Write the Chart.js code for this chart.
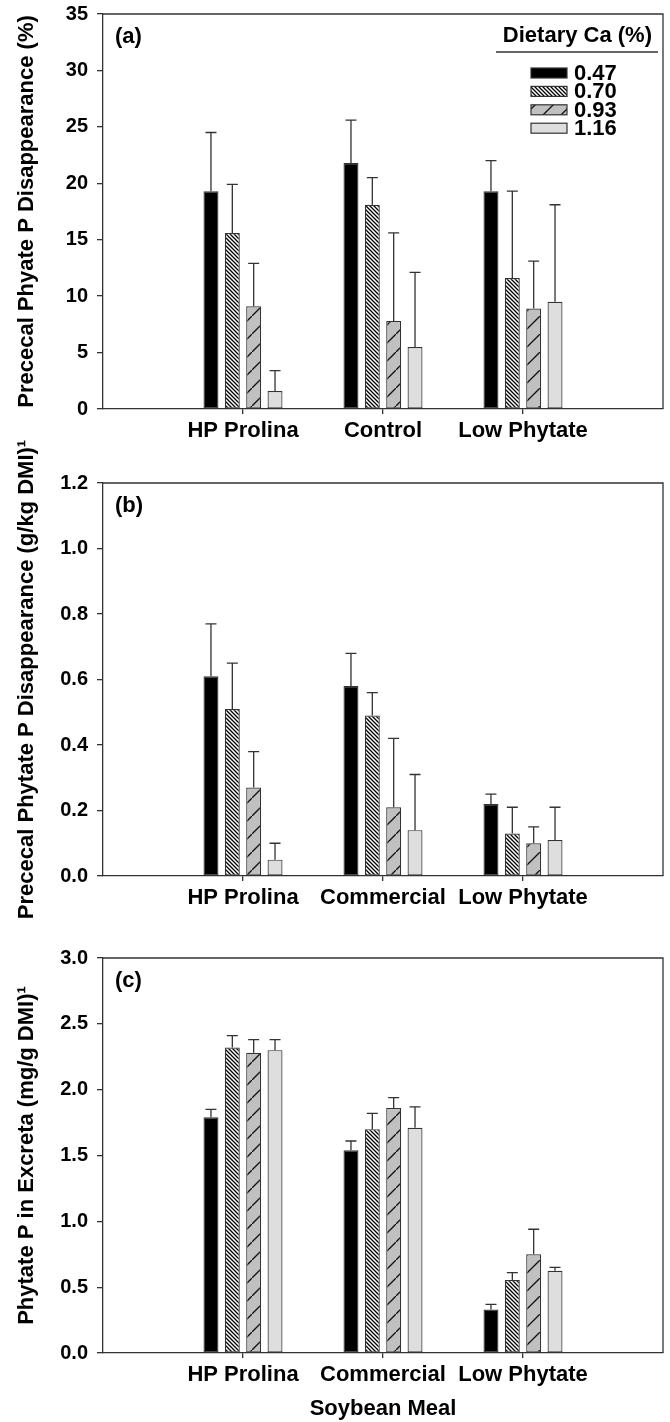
<!DOCTYPE html>
<html>
<head>
<meta charset="utf-8">
<script src="https://cdn.jsdelivr.net/npm/chart.js@4.4.1/dist/chart.umd.min.js"></script>
<style>
  body { margin: 0; background: #fff; }
  #wrap { position: relative; width: 670px; height: 1422px; overflow: hidden; }
  canvas { position: absolute; left: 0; }
</style>
</head>
<body>
<div id="wrap">
  <canvas id="chartA" width="670" height="458" style="top:-8px"></canvas>
  <canvas id="chartB" width="670" height="500" style="top:420px"></canvas>
  <canvas id="chartC" width="670" height="522" style="top:900px"></canvas>
</div>
<script>
// categories
const caLevels = ["0.47", "0.70", "0.93", "1.16"];
const mealsA = ["HP Prolina", "Control", "Low Phytate"];
const mealsBC = ["HP Prolina", "Commercial", "Low Phytate"];

// (a) prececal phytate P disappearance, %  (one row per Ca level, columns = meals)
const meanA = [[19.3, 21.8, 19.3], [15.6, 18.1, 11.6], [9.1, 7.8, 8.9], [1.6, 5.5, 9.5]];
const errA = [[5.2, 3.8, 2.7], [4.3, 2.4, 7.7], [3.8, 7.8, 4.2], [1.8, 6.6, 8.6]];
// (b) prececal phytate P disappearance, g/kg DMI
const meanB = [[0.61, 0.58, 0.22], [0.51, 0.49, 0.13], [0.27, 0.21, 0.10], [0.05, 0.14, 0.11]];
const errB = [[0.16, 0.10, 0.03], [0.14, 0.07, 0.08], [0.11, 0.21, 0.05], [0.05, 0.17, 0.10]];
// (c) phytate P in excreta, mg/g DMI
const meanC = [[1.79, 1.54, 0.33], [2.32, 1.70, 0.555], [2.28, 1.86, 0.75], [2.30, 1.71, 0.625]];
const errC = [[0.06, 0.07, 0.04], [0.09, 0.12, 0.055], [0.10, 0.08, 0.19], [0.08, 0.16, 0.025]];

// tick labels
const ticksA = [0, 5, 10, 15, 20, 25, 30, 35];
const ticksB = [0, 0.2, 0.4, 0.6, 0.8, 1.0, 1.2];
const ticksC = [0, 0.5, 1.0, 1.5, 2.0, 2.5, 3.0];

const FONT = "'Liberation Sans', Arial, Helvetica, sans-serif";
const EDGE = "#333";

// fill patterns for the four Ca levels
function tile(size, bg, draw) {
  const c = document.createElement("canvas");
  c.width = c.height = size;
  const g = c.getContext("2d");
  g.fillStyle = bg;
  g.fillRect(0, 0, size, size);
  draw(g, size);
  return g.createPattern(c, "repeat");
}
const fills = [
  "#000000",
  tile(4, "#ffffff", (g, s) => {
    g.strokeStyle = "#000"; g.lineWidth = 1.3;
    g.beginPath();
    g.moveTo(-1, -1); g.lineTo(s + 1, s + 1);
    g.moveTo(-1, s - 1); g.lineTo(1, s + 1);
    g.moveTo(s - 1, -1); g.lineTo(s + 1, 1);
    g.stroke();
  }),
  tile(18, "#c0c0c0", (g, s) => {
    g.strokeStyle = "#111"; g.lineWidth = 1.3;
    g.beginPath();
    g.moveTo(-1, s + 1); g.lineTo(s + 1, -1);
    g.stroke();
  }),
  "#dedede"
];

const errorBars = {
  id: "errorBars",
  afterDatasetsDraw(chart) {
    const ctx = chart.ctx;
    const y = chart.scales.y;
    ctx.save();
    ctx.strokeStyle = EDGE;
    ctx.lineWidth = 1.3;
    chart.data.datasets.forEach((ds, di) => {
      chart.getDatasetMeta(di).data.forEach((bar, i) => {
        const v = ds.data[i];
        if (v == null) return;
        const top = y.getPixelForValue(v + ds.err[i]);
        ctx.beginPath();
        ctx.moveTo(bar.x, bar.y);
        ctx.lineTo(bar.x, top);
        ctx.moveTo(bar.x - 5.5, top);
        ctx.lineTo(bar.x + 5.5, top);
        ctx.stroke();
      });
    });
    ctx.restore();
  }
};

const frame = {
  id: "frame",
  afterDraw(chart, args, opts) {
    const { ctx, chartArea: a } = chart;
    ctx.save();
    ctx.strokeStyle = EDGE;
    ctx.lineWidth = 1.3;
    ctx.beginPath();
    ctx.moveTo(a.left, a.top);
    ctx.lineTo(a.right, a.top);
    ctx.lineTo(a.right, a.bottom);
    ctx.stroke();
    ctx.fillStyle = "#000";
    ctx.font = "bold 22px " + FONT;
    ctx.textBaseline = "middle";
    ctx.fillText(opts.letter, a.left + 12, a.top + 23);

    if (opts.legend) {
      ctx.textAlign = "right";
      ctx.fillText("Dietary Ca (%)", a.right - 11, a.top + 22);
      ctx.beginPath();
      ctx.lineWidth = 1.5;
      ctx.moveTo(a.right - 167, a.top + 38);
      ctx.lineTo(a.right - 5, a.top + 38);
      ctx.stroke();
      ctx.textAlign = "left";
      chart.data.datasets.forEach((ds, i) => {
        const cy = a.top + 59 + i * 18.4;
        ctx.fillStyle = ds.backgroundColor;
        ctx.fillRect(a.right - 132, cy - 5, 36, 10);
        ctx.lineWidth = 1.2;
        ctx.strokeRect(a.right - 132, cy - 5, 36, 10);
        ctx.fillStyle = "#000";
        ctx.fillText(ds.label, a.right - 89, cy + 1);
      });
    }
    ctx.restore();
  }
};

function makeChart(id, meals, means, errs, yTicks, yTitle, letter, opt) {
  const labels = ["", ...meals, ""];
  const datasets = caLevels.map((lvl, k) => ({
    label: lvl,
    data: [null, ...means[k], null],
    err: [null, ...errs[k], null],
    backgroundColor: fills[k],
    borderColor: EDGE,
    borderWidth: 1.2,
    borderSkipped: false,
    categoryPercentage: 0.61,
    barPercentage: 0.7
  }));
  return new Chart(document.getElementById(id), {
    type: "bar",
    data: { labels, datasets },
    plugins: [errorBars, frame],
    options: {
      responsive: false,
      animation: false,
      devicePixelRatio: 1,
      layout: { padding: { top: opt.padTop, right: 7, left: 0, bottom: 0 } },
      plugins: {
        legend: { display: false },
        tooltip: { enabled: false },
        frame: { letter, legend: opt.legend }
      },
      scales: {
        x: {
          offset: false,
          grid: {
            offset: false,
            drawOnChartArea: false,
            tickLength: 5,
            lineWidth: 1.3,
            color: c => (c.index === 0 || c.index === labels.length - 1) ? "rgba(0,0,0,0)" : EDGE
          },
          border: { color: EDGE, width: 1.3 },
          ticks: { color: "#000", padding: 4, maxRotation: 0, autoSkip: false, font: { family: FONT, size: 22, weight: "bold" } },
          title: {
            display: !!opt.xTitle,
            text: opt.xTitle || "",
            color: "#000",
            padding: { top: 0, bottom: 0 },
            font: { family: FONT, size: 22, weight: "bold" }
          },
          afterFit: s => { s.height = opt.xH; }
        },
        y: {
          min: yTicks[0],
          max: yTicks[yTicks.length - 1],
          afterBuildTicks: s => { s.ticks = yTicks.map(v => ({ value: v })); },
          grid: { drawOnChartArea: false, tickLength: 6, lineWidth: 1.3, color: EDGE },
          border: { color: EDGE, width: 1.3 },
          ticks: {
            color: "#000",
            padding: 9,
            font: { family: FONT, size: 20, weight: "bold" },
            callback: v => opt.decimals ? Number(v).toFixed(opt.decimals) : String(v)
          },
          title: {
            display: true,
            text: yTitle,
            color: "#000",
            padding: { top: 14, bottom: 0 },
            font: { family: FONT, size: 22, weight: "bold" }
          },
          afterFit: s => { s.width = 103; }
        }
      }
    }
  });
}

makeChart("chartA", mealsA, meanA, errA, ticksA, "Prececal Phyate P Disappearance (%)", "(a)",
  { padTop: 22, xH: 41, legend: true, decimals: 0 });
makeChart("chartB", mealsBC, meanB, errB, ticksB, "Prececal Phytate P Disappearance (g/kg DMI)\u00B9", "(b)",
  { padTop: 63, xH: 44, decimals: 1 });
makeChart("chartC", mealsBC, meanC, errC, ticksC, "Phytate P in Excreta (mg/g DMI)\u00B9", "(c)",
  { padTop: 58, xH: 69, decimals: 1, xTitle: "Soybean Meal" });
</script>
</body>
</html>
